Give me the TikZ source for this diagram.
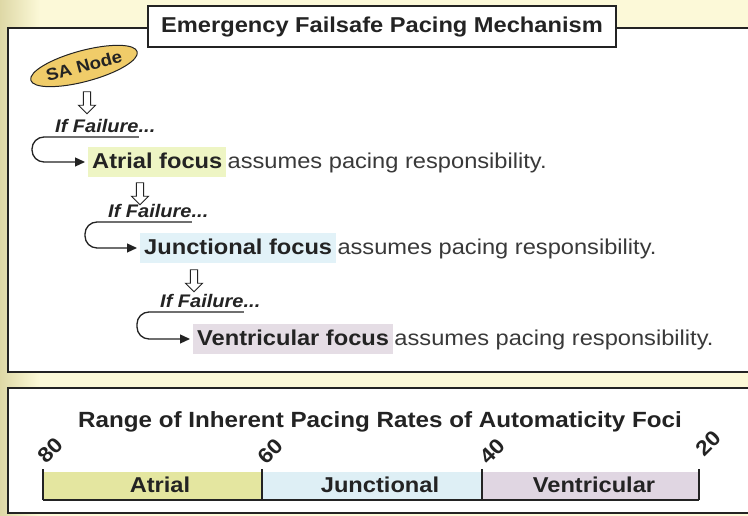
\documentclass[tikz,border=0pt]{standalone}
\usepackage{fontspec}
\setmainfont[FakeStretch=1.1]{Liberation Sans}
\usepackage{xcolor}
\usetikzlibrary{arrows.meta,shapes.geometric,shapes.arrows,positioning}

\definecolor{bgcream}{RGB}{252,249,216}
\definecolor{bgedge}{RGB}{222,216,166}
\definecolor{ink}{RGB}{35,35,35}
\definecolor{safill}{RGB}{240,204,105}
\definecolor{atrhi}{RGB}{238,245,196}
\definecolor{junchi}{RGB}{226,242,248}
\definecolor{venthi}{RGB}{229,221,229}
\definecolor{atrbar}{RGB}{228,230,160}
\definecolor{juncbar}{RGB}{222,239,245}
\definecolor{ventbar}{RGB}{224,214,226}

\tikzset{
  boxline/.style={draw=ink,line width=1.6pt,fill=white},
  hook/.style={draw=ink,line width=1.3pt,rounded corners=12pt,-{Triangle[length=10pt,width=9pt]}},
  downarr/.style={single arrow,draw=ink,fill=white,line width=0.9pt,shape border rotate=270,
    minimum height=22pt,minimum width=17pt,inner sep=2.5pt,single arrow head extend=4pt},
  failtxt/.style={font=\fontsize{18.2}{18}\selectfont\bfseries\itshape,text=ink,inner sep=0pt,anchor=base west},
  focus/.style={font=\fontsize{21.5}{21}\selectfont\bfseries,text=ink,anchor=west,inner xsep=4pt,
    minimum height=30pt,text height=16pt,text depth=2pt},
  resttxt/.style={font=\fontsize{21.5}{21}\selectfont,text=ink!90,inner sep=0pt,anchor=base west},
  tickline/.style={draw=ink,line width=1.3pt},
  rate/.style={font=\fontsize{21}{21}\selectfont\bfseries,text=ink,rotate=45,inner sep=0pt},
  barlbl/.style={font=\fontsize{21.5}{21}\selectfont\bfseries,text=ink,anchor=base}
}

\begin{document}
\begin{tikzpicture}[x=1pt,y=1pt]
\useasboundingbox (0,0) rectangle (748,516);
\clip (0,0) rectangle (748,516);
% background
\fill[bgcream] (0,0) rectangle (748,516);
\shade[left color=bgedge,right color=bgcream] (0,0) rectangle (40,516);

% upper panel
\draw[boxline] (8,144) rectangle (760,488);
\node[boxline,minimum width=468pt,minimum height=41pt,font=\fontsize{21.5}{21}\selectfont\bfseries,text=ink]
  (title) at (382,489.5) {Emergency Failsafe Pacing Mechanism};

\node[ellipse,draw=ink,line width=1pt,fill=safill,minimum width=98pt,minimum height=31pt,rotate=15,
  font=\fontsize{17}{17}\selectfont\bfseries,text=ink,inner sep=0pt] (sa) at (84,450) {SA Node};

\node[downarr] (dn1) at (87,415) {};
\node[failtxt] (fail1) at (55,383) {If Failure\rlap{...}};
\node[focus,fill=atrhi] (atrial) at (88,354) {Atrial focus};
\node[resttxt] (rest1) at ([xshift=1pt]atrial.base east) {assumes pacing responsibility.};
\draw[hook,shorten >=3pt] ([yshift=-4pt]fail1.base east) -- ([xshift=-23pt,yshift=-4pt]fail1.base west) |- (atrial.west);

\node[downarr] (dn2) at (140,324) {};
\node[failtxt] (fail2) at (108,298) {If Failure\rlap{...}};
\node[focus,fill=junchi] (junc) at (140,268) {Junctional focus};
\node[resttxt] (rest2) at ([xshift=1pt]junc.base east) {assumes pacing responsibility.};
\draw[hook,shorten >=3pt] ([yshift=-4pt]fail2.base east) -- ([xshift=-23pt,yshift=-4pt]fail2.base west) |- (junc.west);

\node[downarr] (dn3) at (194,237) {};
\node[failtxt] (fail3) at (160,208) {If Failure\rlap{...}};
\node[focus,fill=venthi] (vent) at (193,177) {Ventricular focus};
\node[resttxt] (rest3) at ([xshift=1pt]vent.base east) {assumes pacing responsibility.};
\draw[hook,shorten >=3pt] ([yshift=-4pt]fail3.base east) -- ([xshift=-23pt,yshift=-4pt]fail3.base west) |- (vent.west);

% lower panel
\draw[boxline] (8,3) rectangle (760,128);
\node[font=\fontsize{22}{22}\selectfont\bfseries,text=ink,anchor=base] (range) at (380,88)
  {Range of Inherent Pacing Rates of Automaticity Foci};

\fill[atrbar] (43,16) rectangle (262,44);
\fill[juncbar] (262,16) rectangle (482,44);
\fill[ventbar] (482,16) rectangle (699,44);
\draw[tickline] (43,16) -- (699,16);
\foreach \x in {43,262,482,699}
  \draw[tickline] (\x,16) -- (\x,47);

\node[barlbl] (atrlbl) at (160,23) {Atrial};
\node[barlbl] (junclbl) at (380,23) {Junctional};
\node[barlbl] (ventlbl) at (594,23) {Ventricular};

\foreach \x/\y/\v in {50/66/80, 270/65/60, 492/65/40, 708/73/20}
  \node[rate] (r\v) at (\x,\y) {\v};
\end{tikzpicture}
\end{document}
